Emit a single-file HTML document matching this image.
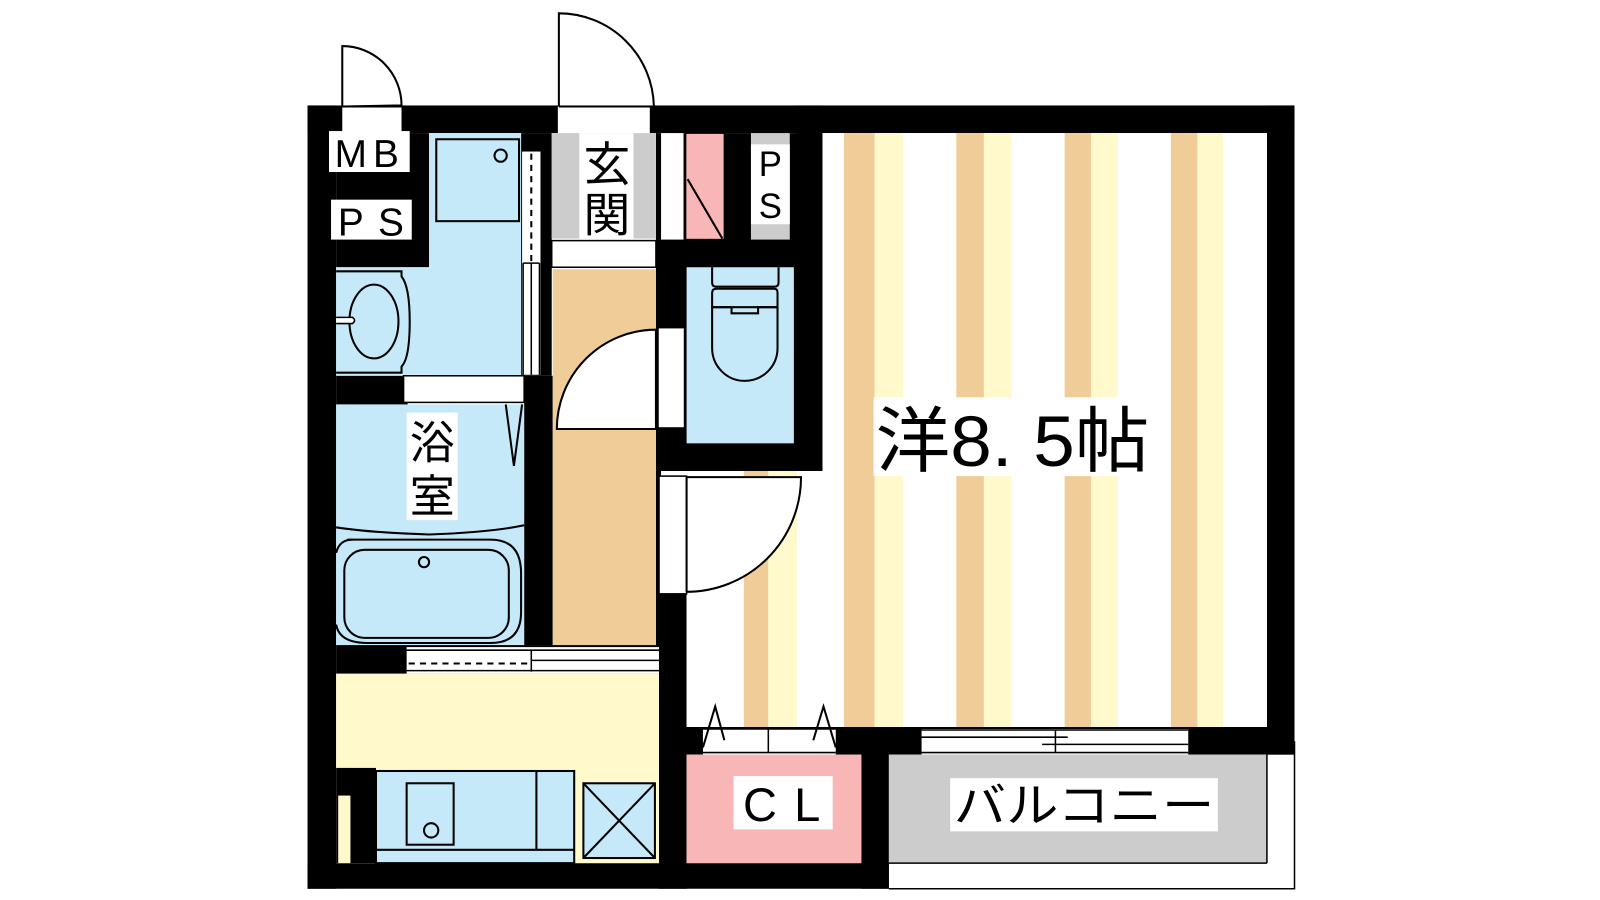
<!DOCTYPE html>
<html><head><meta charset="utf-8"><style>
html,body{margin:0;padding:0;background:#fff;width:1600px;height:900px;overflow:hidden}
svg{display:block}
text{font-family:"Liberation Sans","Noto Sans CJK JP",sans-serif;fill:#000}
</style></head><body>
<svg width="1600" height="900" viewBox="0 0 1566 879" preserveAspectRatio="none" xmlns="http://www.w3.org/2000/svg">
<rect width="1566" height="879" fill="#fff"/>
<rect x="301" y="103" width="966" height="27" fill="#000"/>
<rect x="301" y="103" width="28" height="765" fill="#000"/>
<rect x="301" y="843" width="569" height="25" fill="#000"/>
<rect x="1240" y="103" width="27" height="634" fill="#000"/>
<rect x="329" y="130" width="91" height="131" fill="#000"/>
<rect x="510" y="130" width="30" height="237" fill="#000"/>
<rect x="642" y="130" width="163" height="330" fill="#000"/>
<rect x="780" y="103" width="25" height="357" fill="#000"/>
<rect x="645" y="580" width="27" height="288" fill="#000"/>
<rect x="645" y="710" width="225" height="27" fill="#000"/>
<rect x="843" y="710" width="27" height="158" fill="#000"/>
<rect x="805" y="710" width="460" height="27" fill="#000"/>
<rect x="513" y="367" width="28" height="263" fill="#000"/>
<rect x="329" y="367" width="70" height="28" fill="#000"/>
<rect x="329" y="630" width="316" height="28" fill="#000"/>
<rect x="642" y="237" width="5" height="400" fill="#000"/>

<rect x="322" y="128" width="79" height="40" fill="#fff"/>
<text x="362" y="163" font-size="38" text-anchor="middle" letter-spacing="6">MB</text>
<rect x="324" y="195" width="79" height="39" fill="#fff"/>
<text x="364" y="230" font-size="38" text-anchor="middle" letter-spacing="2">P S</text>
<rect x="335" y="105" width="58" height="25" fill="#fff"/>
<path d="M335 104 V45 A58 58 0 0 1 393 103 Z" fill="#fff" stroke="#000" stroke-width="2"/>
<line x1="335" y1="104" x2="393" y2="104" stroke="#000" stroke-width="2"/>

<rect x="420" y="130" width="90" height="236" fill="#C5E9F9"/>
<rect x="329" y="261" width="181" height="105" fill="#C5E9F9"/>
<rect x="427" y="136" width="81" height="80" fill="none" stroke="#000" stroke-width="2"/>
<circle cx="490" cy="152" r="6" fill="none" stroke="#000" stroke-width="2"/>
<path d="M329 265 H393 V270 Q401 280 401 314 Q401 350 393 358 V364 H329" fill="none" stroke="#000" stroke-width="2"/>
<ellipse cx="366" cy="314" rx="24" ry="36" fill="none" stroke="#000" stroke-width="2"/>
<path d="M329 310 H345 Q349 313 345 316 H329" fill="#fff" stroke="#000" stroke-width="1.5"/>
<rect x="511" y="148" width="18" height="218" fill="#fff"/>
<line x1="520" y1="150" x2="520" y2="256" stroke="#000" stroke-width="2" stroke-dasharray="6,5"/>
<line x1="512" y1="257" x2="512" y2="366" stroke="#000" stroke-width="1.5"/>
<line x1="520" y1="257" x2="520" y2="366" stroke="#000" stroke-width="1.5"/>
<line x1="528" y1="257" x2="528" y2="366" stroke="#000" stroke-width="1.5"/>
<line x1="512" y1="257" x2="528" y2="257" stroke="#000" stroke-width="1.5"/>

<rect x="540" y="130" width="102" height="103" fill="#CCCCCC"/>
<rect x="567" y="130" width="53" height="103" fill="#fff"/>
<text x="594" y="177" font-size="46" text-anchor="middle">玄</text>
<text x="594" y="226" font-size="46" text-anchor="middle">関</text>
<rect x="546" y="104" width="90" height="26" fill="#fff"/>
<path d="M547 104 V13 A93 93 0 0 1 640 104" fill="none" stroke="#000" stroke-width="2"/>
<line x1="547" y1="104" x2="640" y2="104" stroke="#000" stroke-width="2"/>
<rect x="540" y="235" width="102" height="26" fill="#fff" stroke="#000" stroke-width="1.5"/>
<rect x="541" y="263" width="101" height="367" fill="#F0CC98"/>
<rect x="647" y="130" width="22" height="104" fill="#fff"/>
<rect x="671" y="130" width="38" height="104" fill="#F8B6B6" stroke="#000" stroke-width="1.5"/>
<line x1="673" y1="175" x2="707" y2="233" stroke="#000" stroke-width="2"/>
<rect x="735" y="130" width="38" height="104" fill="#CCCCCC"/>
<rect x="735" y="141" width="38" height="78" fill="#fff"/>
<text x="754" y="172" font-size="34" text-anchor="middle">P</text>
<text x="754" y="213" font-size="34" text-anchor="middle">S</text>
<rect x="672" y="261" width="105" height="172" fill="#C5E9F9"/>
<path d="M697 261 V276 Q697 280 701 280 H758 Q762 280 762 276 V261" fill="none" stroke="#000" stroke-width="2"/>
<path d="M697 300 V340 A32 32 0 0 0 761 340 V300 Z" fill="none" stroke="#000" stroke-width="2"/>
<path d="M697 286 Q697 282 701 282 H758 Q761 282 761 286 V300 H742 V306 H716 V300 H697 Z" fill="none" stroke="#000" stroke-width="2"/>
<rect x="644" y="320" width="26" height="98" fill="#fff" stroke="#000" stroke-width="1.5"/>
<path d="M642 419 H545 A97 97 0 0 1 642 322 Z" fill="#fff" stroke="#000" stroke-width="2"/>

<rect x="329" y="395" width="184" height="235" fill="#C5E9F9"/>
<rect x="395" y="367" width="118" height="26" fill="#fff" stroke="#000" stroke-width="1.5"/>
<path d="M495 395 L503 455 L511 395" fill="none" stroke="#000" stroke-width="2"/>
<rect x="398" y="403" width="50" height="105" fill="#fff"/>
<text x="423" y="448" font-size="44" text-anchor="middle">浴</text>
<text x="423" y="500" font-size="44" text-anchor="middle">室</text>
<path d="M329 515 Q360 520 420 522 Q480 520 513 513" fill="none" stroke="#000" stroke-width="2"/>
<path d="M340 527 H480 Q510 527 510 560 V598 Q510 628 480 628 H360 Q332 628 329 610" fill="none" stroke="#000" stroke-width="2"/>
<path d="M329 540 Q332 527 345 527" fill="none" stroke="#000" stroke-width="2"/>
<rect x="337" y="537" width="161" height="86" rx="20" fill="none" stroke="#000" stroke-width="2"/>
<circle cx="415" cy="549" r="5" fill="none" stroke="#000" stroke-width="2"/>
<rect x="398" y="632" width="247" height="26" fill="#fff"/>
<line x1="398" y1="635" x2="645" y2="635" stroke="#000" stroke-width="1.5"/>
<line x1="520" y1="645" x2="645" y2="645" stroke="#000" stroke-width="1.5"/>
<line x1="400" y1="648" x2="518" y2="648" stroke="#000" stroke-width="2" stroke-dasharray="6,5"/>
<line x1="398" y1="655" x2="645" y2="655" stroke="#000" stroke-width="1.5"/>
<line x1="520" y1="635" x2="520" y2="656" stroke="#000" stroke-width="1.5"/>
<rect x="329" y="658" width="316" height="185" fill="#FFF9CC"/>
<rect x="329" y="750" width="39" height="93" fill="#000"/>
<rect x="331" y="777" width="12" height="66" fill="#FFF9CC"/>
<rect x="368" y="753" width="194" height="90" fill="#C5E9F9" stroke="#000" stroke-width="2"/>
<line x1="368" y1="830" x2="562" y2="830" stroke="#000" stroke-width="2"/>
<line x1="525" y1="753" x2="525" y2="830" stroke="#000" stroke-width="2"/>
<rect x="398" y="765" width="46" height="60" fill="none" stroke="#000" stroke-width="2"/>
<circle cx="422" cy="811" r="7" fill="none" stroke="#000" stroke-width="2"/>
<rect x="571" y="765" width="70" height="73" fill="#C5E9F9" stroke="#000" stroke-width="2"/>
<line x1="571" y1="765" x2="641" y2="838" stroke="#000" stroke-width="2"/>
<line x1="641" y1="765" x2="571" y2="838" stroke="#000" stroke-width="2"/>

<rect x="805" y="130" width="435" height="580" fill="#fff"/>
<rect x="672" y="460" width="133" height="250" fill="#fff"/>
<g>
<rect x="826" y="130" width="30" height="580" fill="#F0CC98"/><rect x="856" y="130" width="28" height="580" fill="#FFF9CC"/>
<rect x="936" y="130" width="27" height="580" fill="#F0CC98"/><rect x="963" y="130" width="27" height="580" fill="#FFF9CC"/>
<rect x="1042" y="130" width="26" height="580" fill="#F0CC98"/><rect x="1068" y="130" width="26" height="580" fill="#FFF9CC"/>
<rect x="1146" y="130" width="26" height="580" fill="#F0CC98"/><rect x="1172" y="130" width="25" height="580" fill="#FFF9CC"/>
<rect x="728" y="460" width="24" height="250" fill="#F0CC98"/><rect x="752" y="460" width="28" height="250" fill="#FFF9CC"/>
</g>
<rect x="855" y="388" width="273" height="77" fill="#fff"/>
<text x="857" y="455" font-size="70" textLength="268" lengthAdjust="spacingAndGlyphs">洋8. 5帖</text>
<rect x="645" y="465" width="27" height="115" fill="#fff" stroke="#000" stroke-width="1.5"/>
<path d="M672 578 V466 H784 A112 112 0 0 1 672 578" fill="#fff" stroke="#000" stroke-width="2"/>
<rect x="672" y="737" width="171" height="106" fill="#F8B6B6"/>
<rect x="718" y="758" width="97" height="52" fill="#fff"/>
<text x="766" y="802" font-size="46" text-anchor="middle" letter-spacing="2">C L</text>
<rect x="688" y="712" width="130" height="25" fill="#fff"/>
<line x1="688" y1="712" x2="818" y2="712" stroke="#000" stroke-width="1.5"/>
<line x1="688" y1="735" x2="818" y2="735" stroke="#000" stroke-width="1.5"/>
<line x1="752" y1="712" x2="752" y2="735" stroke="#000" stroke-width="1.5"/>
<path d="M688 730 L700 690 L709 723" fill="none" stroke="#000" stroke-width="2"/>
<path d="M796 723 L806 690 L818 730" fill="none" stroke="#000" stroke-width="2"/>
<rect x="902" y="712" width="261" height="25" fill="#fff"/>
<line x1="902" y1="713" x2="1163" y2="713" stroke="#000" stroke-width="1.5"/>
<line x1="902" y1="720" x2="1045" y2="720" stroke="#000" stroke-width="1.5"/>
<line x1="1020" y1="727" x2="1163" y2="727" stroke="#000" stroke-width="1.5"/>
<line x1="902" y1="735" x2="1163" y2="735" stroke="#000" stroke-width="1.5"/>
<line x1="1033" y1="713" x2="1033" y2="735" stroke="#000" stroke-width="1.5"/>
<rect x="870" y="737" width="370" height="106" fill="#CCCCCC"/>
<polyline points="870,868 1267,868 1267,724" fill="none" stroke="#000" stroke-width="1.5"/>
<line x1="1240" y1="737" x2="1240" y2="843" stroke="#000" stroke-width="1.5"/>
<line x1="870" y1="843" x2="1240" y2="843" stroke="#000" stroke-width="1.5"/>
<rect x="930" y="760" width="262" height="52" fill="#fff"/>
<text x="1061" y="803" font-size="46" text-anchor="middle" textLength="255" lengthAdjust="spacingAndGlyphs">バルコニー</text>
</svg>
</body></html>
